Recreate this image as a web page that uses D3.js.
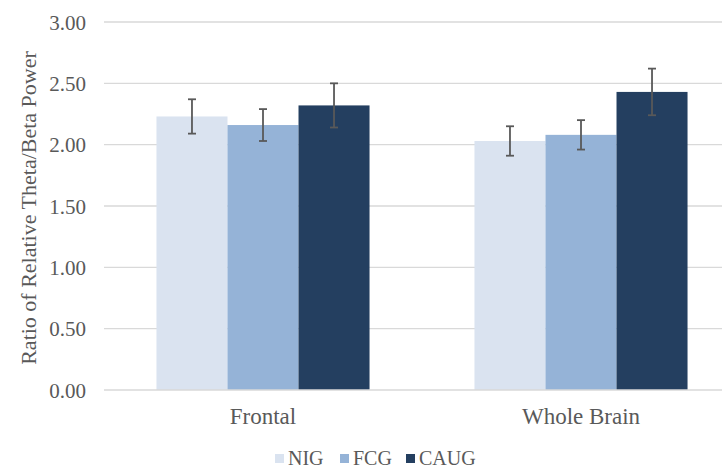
<!DOCTYPE html>
<html><head><meta charset="utf-8">
<script src="https://cdn.jsdelivr.net/npm/d3@7"></script>
<style>body{margin:0;background:#fff}svg{display:block;font-family:"Liberation Serif","Times New Roman",serif}</style>
</head><body><svg id="c" width="722" height="471"></svg>
<script>
const categories = ["Frontal", "Whole Brain"];
const seriesNames = ["NIG", "FCG", "CAUG"];
const seriesColors = ["#dae3f0", "#95b3d7", "#243f60"];
const valuesNIG = [2.23, 2.03];
const valuesFCG = [2.16, 2.08];
const valuesCAUG = [2.32, 2.43];
const errNIG = [0.14, 0.12];
const errFCG = [0.13, 0.12];
const errCAUG = [0.18, 0.19];
const yTicks = [0, 0.5, 1, 1.5, 2, 2.5, 3];

const values = [valuesNIG, valuesFCG, valuesCAUG];
const errs = [errNIG, errFCG, errCAUG];
const svg = d3.select("#c");
const L = 104, R = 740, T = 22, B = 390;
const x0 = d3.scaleBand().domain(categories).range([L, R]).paddingInner(0.33).paddingOuter(0.165);
const x1 = d3.scaleBand().domain(seriesNames).range([0, x0.bandwidth()]);
const y = d3.scaleLinear().domain([0, 3]).range([B, T]);

// gridlines
svg.append("g").selectAll("line").data(yTicks.slice(1)).join("line")
  .attr("x1", L).attr("x2", R).attr("y1", d => y(d)).attr("y2", d => y(d))
  .attr("stroke", "#d9d9d9").attr("stroke-width", 1.3);

// y axis labels
const yAxis = d3.axisLeft(y).tickValues(yTicks).tickFormat(d3.format(".2f")).tickSize(0).tickPadding(0);
const ga = svg.append("g").attr("transform", `translate(86,0)`).call(yAxis);
ga.select(".domain").remove();
ga.selectAll("text").attr("fill", "#595959").attr("font-size", 21).attr("font-family", "Liberation Serif").attr("dy", "0.34em");

// bars
const rows = [];
seriesNames.forEach((s, si) => categories.forEach((c, ci) => rows.push({s, si, c, v: values[si][ci], e: errs[si][ci]})));
svg.append("g").selectAll("rect").data(rows).join("rect")
  .attr("x", d => x0(d.c) + x1(d.s)).attr("width", x1.bandwidth())
  .attr("y", d => y(d.v)).attr("height", d => y(0) - y(d.v))
  .attr("fill", d => seriesColors[d.si]);

// baseline
svg.append("line").attr("x1", L).attr("x2", R).attr("y1", y(0)).attr("y2", y(0))
  .attr("stroke", "#d9d9d9").attr("stroke-width", 1.3);

// error bars
const eb = svg.append("g").attr("stroke", "#595959").attr("stroke-width", 1.8);
rows.forEach(d => {
  const cx = x0(d.c) + x1(d.s) + x1.bandwidth() / 2;
  eb.append("line").attr("x1", cx).attr("x2", cx).attr("y1", y(d.v + d.e)).attr("y2", y(d.v - d.e));
  eb.append("line").attr("x1", cx - 4).attr("x2", cx + 4).attr("y1", y(d.v + d.e)).attr("y2", y(d.v + d.e));
  eb.append("line").attr("x1", cx - 4).attr("x2", cx + 4).attr("y1", y(d.v - d.e)).attr("y2", y(d.v - d.e));
});

// x category labels
const xAxis = d3.axisBottom(x0).tickSize(0).tickPadding(0);
const gx = svg.append("g").attr("transform", `translate(0,${B})`).call(xAxis);
gx.select(".domain").remove();
gx.selectAll("text").attr("fill", "#595959").attr("font-size", 23).attr("font-family", "Liberation Serif")
  .attr("y", 34).attr("dy", 0);

// y title
svg.append("text").attr("transform", `translate(36,${(T + B) / 2 + 2}) rotate(-90)`)
  .attr("text-anchor", "middle").attr("fill", "#595959").attr("font-size", 22)
  .text("Ratio of Relative Theta/Beta Power");

// legend
const lg = svg.append("g").attr("transform", "translate(275,465)");
const lx = [0, 65, 131];
seriesNames.forEach((s, i) => {
  lg.append("rect").attr("x", lx[i]).attr("y", -11).attr("width", 9).attr("height", 9).attr("fill", seriesColors[i]);
  lg.append("text").attr("x", lx[i] + 13).attr("y", 0).attr("fill", "#595959").attr("font-size", 20).text(s);
});
</script></body></html>
